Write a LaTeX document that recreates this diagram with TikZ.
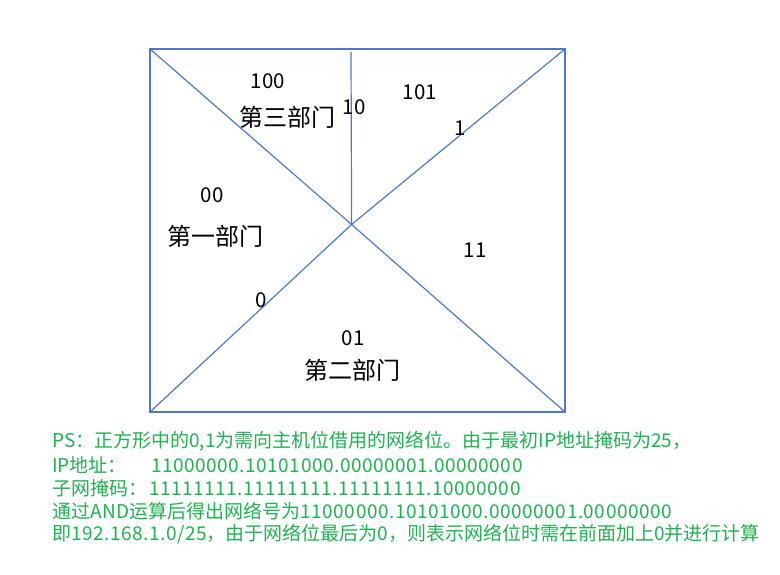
\documentclass[tikz,border=0pt]{standalone}
\usepackage{fontspec}
\setmainfont{Noto Sans CJK SC}
\newfontfamily\numfont[LetterSpace=2.8]{Noto Sans CJK SC}
\definecolor{lineblue}{RGB}{80,120,200}
\definecolor{notegreen}{RGB}{30,178,80}
\tikzset{
  part/.style={inner sep=0pt, font=\fontsize{24pt}{28pt}\selectfont},
  bits/.style={inner sep=0pt, font=\fontsize{20.5pt}{24pt}\selectfont},
  note/.style={inner sep=0pt, anchor=west, text=notegreen, font=\fontsize{19pt}{23pt}\selectfont},
  edge/.style={draw=lineblue, line width=1.2pt}
}
\begin{document}
\begin{tikzpicture}[x=1pt,y=-1pt]
\useasboundingbox (0,0) rectangle (780,575);
% square and its corners
\coordinate (tl) at (150,49);
\coordinate (tr) at (565,49);
\coordinate (br) at (565,412);
\coordinate (bl) at (150,412);
\coordinate (c) at (351.6,224.5);
\coordinate (vt) at (351,52);
\draw[edge] (tl) -- (tr) -- (br) -- (bl) -- cycle;
\draw[edge] (tl) -- (c);
\draw[edge] (tr) -- (c);
\draw[edge] (br) -- (c);
\draw[edge] (bl) -- (c);
\draw[edge] (vt) -- (c);
% labels
\node[bits] (b100) at (268,81) {100};
\node[part] (p3) at (287,117) {第三部门};
\node[bits] (b10) at (354,107) {10};
\node[bits] (b101) at (420,92) {101};
\node[bits] (b1) at (460,128) {1};
\node[bits] (b00) at (212,195) {00};
\node[part] (p1) at (215,236) {第一部门};
\node[bits] (b11) at (475,250) {11};
\node[bits] (b0) at (261,300) {0};
\node[bits] (b01) at (353,338) {01};
\node[part] (p2) at (352,370) {第二部门};
% note
\node[note] (n1) at (52,441) {PS：正方形中的0,1为需向主机位借用的网络位。由于最初IP地址掩码为25，};
\node[note] (n2) at (52,465) {\rlap{IP地址：}\hphantom{子网掩码：}\hspace{4pt}{\numfont 11000000.10101000.00000001.00000000}};
\node[note] (n3) at (52,488) {子网掩码：\hspace{2pt}{\numfont 11111111.11111111.11111111.10000000}};
\node[note] (n4) at (52,511) {通过{\numfont AND}运算后得出网络号为{\numfont 11000000.10101000.00000001.00000000}};
\node[note] (n5) at (52,534) {即{\numfont 192.168.1.0/25}，由于网络位最后为{\numfont 0}，则表示网络位时需在前面加上{\numfont 0}并进行计算};
\end{tikzpicture}
\end{document}
